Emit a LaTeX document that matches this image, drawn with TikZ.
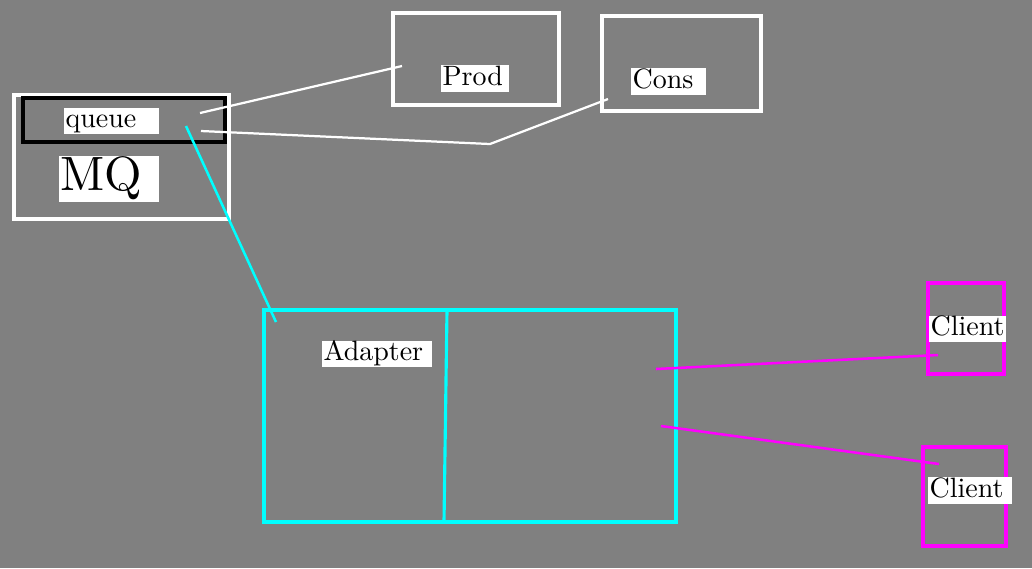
\documentclass[tikz,border=0pt]{standalone}
\usepackage{tikz}
\usetikzlibrary{positioning, fit, calc}
\definecolor{cBg}{RGB}{128,128,128}
\definecolor{cA}{RGB}{0,255,255}
\definecolor{cC}{RGB}{255,0,255}

\begin{document}
\begin{tikzpicture}[x=0.357pt, y=-0.357pt,
    box/.style={draw, inner sep=0pt, line width=1.12pt},
    lbl/.style={fill=white, anchor=west, align=left, inner xsep=0.7pt, inner ysep=0pt, text height=7pt, text depth=2.3pt}]
    \fill[cBg] (0,0) rectangle (1032,568);
    \useasboundingbox (0,0) rectangle (1032,568);

    % boxes
    \node[box, white, fit={(14,95) (229,219)}] (mq) {};
    \node[box, black, line width=1.1pt, fit={(23,98) (225,142)}] (queue) {};
    \node[box, white, fit={(393,13) (559,105)}] (prod) {};
    \node[box, white, fit={(602,16) (761,111)}] (cons) {};
    \node[box, cA, fit={(264,310) (676,522)}] (adapter) {};
    \node[box, cC, fit={(928,283) (1004,374)}] (client1) {};
    \node[box, cC, fit={(923,447) (1006,546)}] (client2) {};
    \draw[cA, line width=1.12pt] (447,310) -- (444,522);

    % labels
    \node[lbl, text width=32.5pt] (queuetxt) at (63,121) {queue};
    \node[lbl, text width=34.3pt, text height=12.5pt, text depth=4pt] (mqtxt) at (58,179) {\scalebox{1.72}{MQ}};
    \node[lbl, text width=23.2pt] (prodtxt) at (440,78.5) {Prod};
    \node[lbl, text width=25.4pt] (constxt) at (630,81.5) {Cons};
    \node[lbl, text width=37.9pt] (adaptertxt) at (321,354) {Adapter};
    \node[lbl, text width=26.1pt] (client1txt) at (928,329) {Client};
    \node[lbl, text width=28.6pt] (client2txt) at (927,490.5) {Client};

    % connector ends
    \coordinate (q1) at (200,113);
    \coordinate (q2) at (201,131);
    \coordinate (q3) at (186,126);
    \coordinate (p1) at (402,66);
    \coordinate (k) at (490,144);
    \coordinate (c1) at (608,99);
    \coordinate (a1) at (276,322);
    \coordinate (a2) at (656,369);
    \coordinate (a3) at (661,426);
    \coordinate (e1) at (938,355);
    \coordinate (e2) at (939,464);

    \draw[white, line width=0.8pt] (q1) -- (p1);
    \draw[white, line width=0.8pt] (q2) -- (k) -- (c1);
    \draw[cA, line width=0.9pt] (q3) -- (a1);
    \draw[cC, line width=0.9pt] (a2) -- (e1);
    \draw[cC, line width=0.9pt] (a3) -- (e2);
\end{tikzpicture}
\end{document}
